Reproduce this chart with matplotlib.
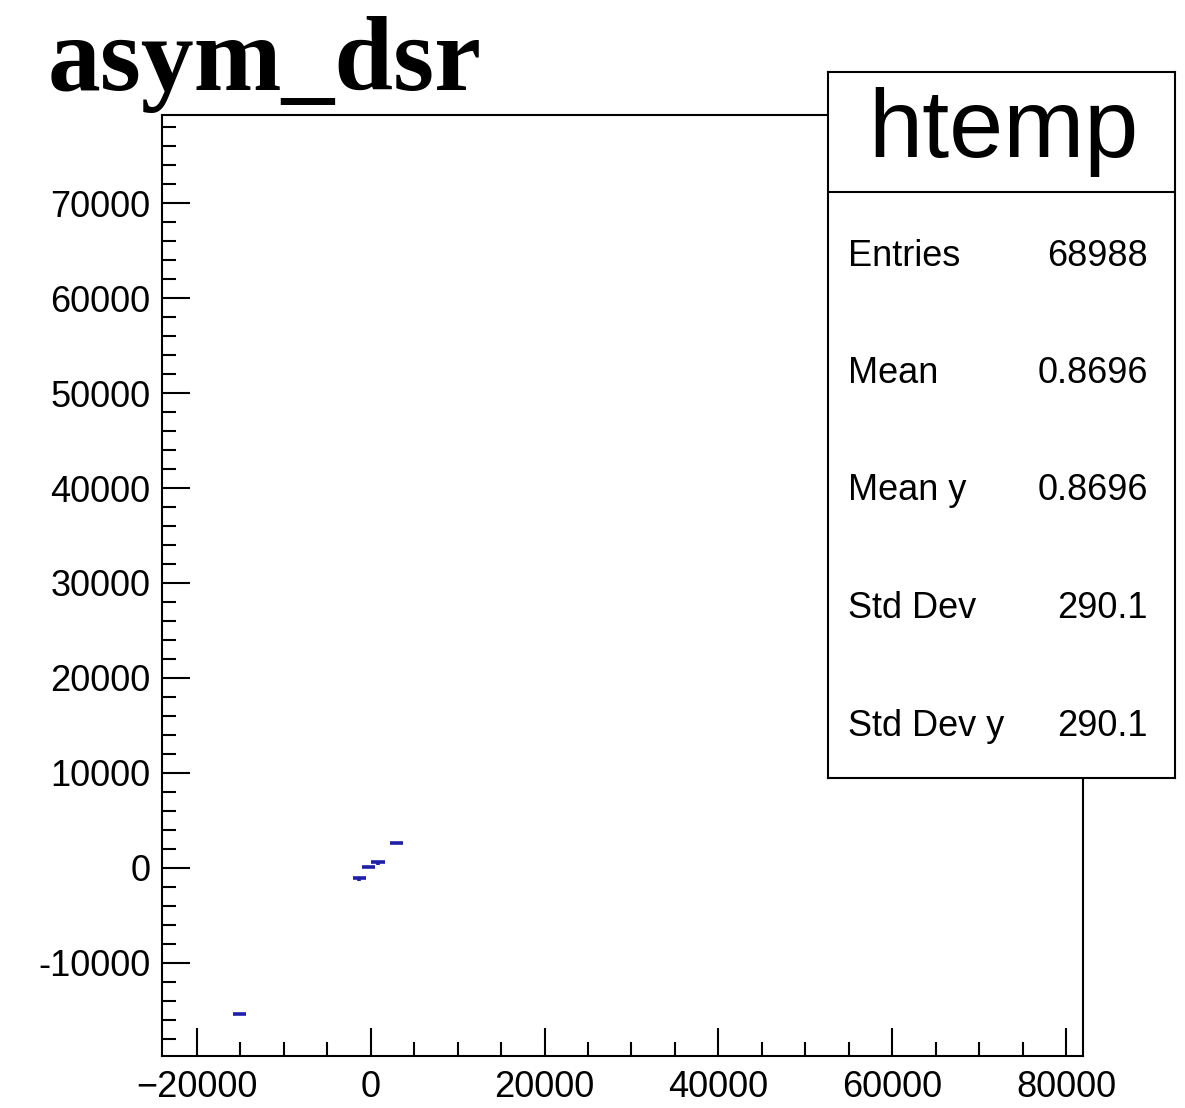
import numpy as np
import matplotlib
matplotlib.use("Agg")
import matplotlib.pyplot as plt
from matplotlib.ticker import MultipleLocator, FuncFormatter

# =========================================================
# DATA
# =========================================================
x_vals = [-15100, -1300, -265, 850, 3000]
y_vals = [-15370, -1110, 50, 580, 2580]
x_half = [750, 750, 750, 750, 750]
y_low = [0, 300, 0, 300, 0]

stat_names = ["Entries", "Mean", "Mean y", "Std Dev", "Std Dev y"]
stat_values = ["68988", "0.8696", "0.8696", "290.1", "290.1"]

title = "asym_dsr"
box_name = "htemp"

W, H = 1185, 1108


def fx(px):
    return px / W


def fy(py):
    return 1 - py / H


# =========================================================
# FIGURE
# =========================================================
plt.rcParams['font.family'] = ['Liberation Sans', 'DejaVu Sans']
fig = plt.figure(figsize=(W / 100, H / 100), dpi=100)

ax = fig.add_axes([fx(161.5), fy(1056), fx(1082.7) - fx(161.5), fy(115) - fy(1056)])
ax.set_xlim(-24050, 81900)
ax.set_ylim(-19830, 79300)

ax.errorbar(x_vals, y_vals, xerr=x_half, yerr=[y_low, [0] * len(y_low)],
            fmt='none', ecolor='#1f1fa8', elinewidth=2.6, capsize=0)

for s in ax.spines.values():
    s.set_linewidth(1.5)

ax.xaxis.set_major_locator(MultipleLocator(20000))
ax.xaxis.set_minor_locator(MultipleLocator(5000))
ax.yaxis.set_major_locator(MultipleLocator(10000))
ax.yaxis.set_minor_locator(MultipleLocator(2000))
# y labels use a plain short hyphen like the original
ax.yaxis.set_major_formatter(FuncFormatter(lambda v, p: f"{v:.0f}"))
ax.tick_params(which='both', direction='in', top=False, right=False, width=1.5)
ax.tick_params(which='major', length=20, labelsize=26)
ax.tick_params(which='minor', length=10)
ax.tick_params(axis='y', pad=8)
ax.tick_params(axis='x', pad=10)

fig.text(fx(48), fy(90), title, family='Liberation Serif', weight='bold',
         fontsize=76, va='baseline', ha='left')

# =========================================================
# STATS BOX
# =========================================================
box = fig.add_axes([fx(828), fy(778), fx(1175) - fx(828), fy(72) - fy(778)])
box.set_xlim(828, 1175)
box.set_ylim(778, 72)
box.set_xticks([])
box.set_yticks([])
box.set_facecolor('white')
for s in box.spines.values():
    s.set_linewidth(1.5)
box.plot([828, 1175], [192, 192], color='black', lw=1.5)

box.text(1003, 157, box_name, fontsize=70, ha='center', va='baseline')

row_y = [252.5, 370, 487.5, 605, 722.5]
for name, val, yc in zip(stat_names, stat_values, row_y):
    box.text(848, yc + 13, name, fontsize=26, ha='left', va='baseline')
    box.text(1148, yc + 13, val, fontsize=26, ha='right', va='baseline')

fig.savefig("out.png", dpi=100)
